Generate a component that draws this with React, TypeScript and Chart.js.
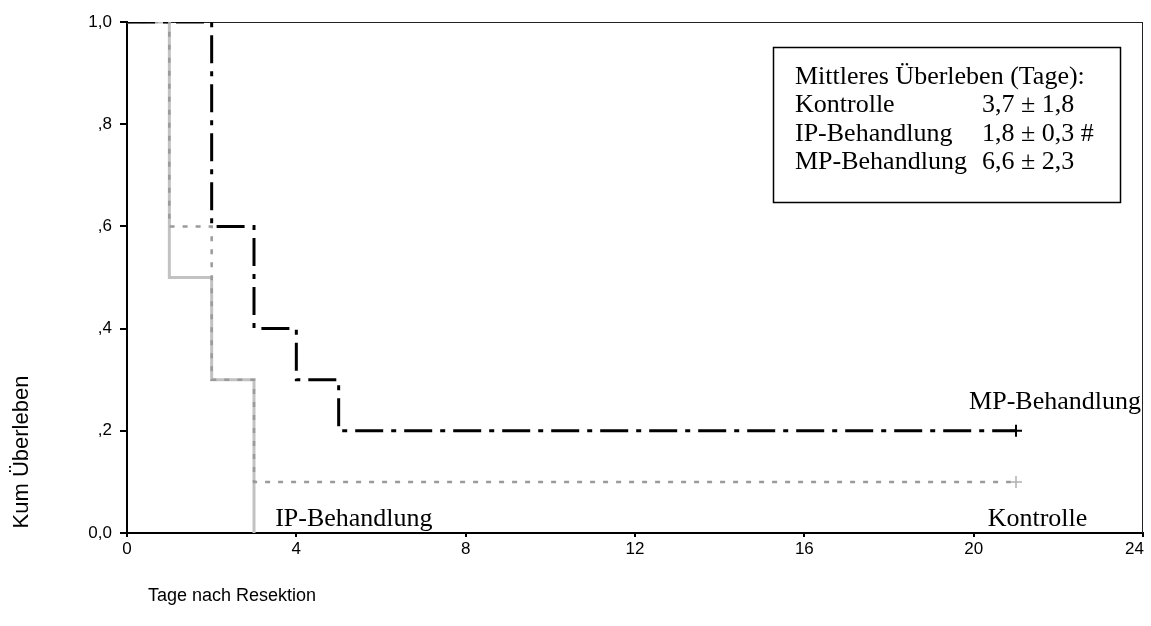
import React, { useEffect, useRef } from "react";
import { Chart, registerables } from "chart.js";

Chart.register(...registerables);

// ---- data ----
const kontrolleDays = [0, 1, 2, 3, 21];
const kontrolleSurv = [1.0, 0.6, 0.3, 0.1, 0.1];
const ipDays = [0, 1, 2, 3];
const ipSurv = [1.0, 0.5, 0.3, 0.0];
const mpDays = [0, 2, 3, 4, 5, 21];
const mpSurv = [1.0, 0.6, 0.4, 0.3, 0.2, 0.2];

const xTickLabels = ["0", "4", "8", "12", "16", "20", "24"];
const yTickLabels = ["0,0", ",2", ",4", ",6", ",8", "1,0"];

const xTitle = "Tage nach Resektion";
const yTitle = "Kum Überleben";

const legendTitle = "Mittleres Überleben (Tage):";
const legendGroups = ["Kontrolle", "IP-Behandlung", "MP-Behandlung"];
const legendValues = ["3,7 ± 1,8", "1,8 ± 0,3 #", "6,6 ± 2,3"];

const curveLabels = ["MP-Behandlung", "Kontrolle", "IP-Behandlung"];

const SANS = "'Liberation Sans', Arial, sans-serif";
const SERIF = "'Liberation Serif', 'Times New Roman', serif";

const pts = (xs: number[], ys: number[]) => xs.map((x, i) => ({ x, y: ys[i] }));
const censorRadius = (xs: number[], censored: boolean) =>
  xs.map((_, i) => (censored && i === xs.length - 1 ? 6 : 0));

const decorPlugin = {
  id: "decor",
  beforeDraw(chart: any) {
    const items = chart.scales.x.getLabelItems();
    const last = items[items.length - 1];
    if (last) {
      last.options.textAlign = "right";
      last.options.translation[0] = chart.chartArea.right + 1;
    }
  },
  beforeDatasetsDraw(chart: any) {
    const { ctx, chartArea } = chart;
    ctx.save();
    ctx.strokeStyle = "#222";
    ctx.lineWidth = 1;
    ctx.beginPath();
    ctx.moveTo(chartArea.left, chartArea.top + 0.5);
    ctx.lineTo(chartArea.right, chartArea.top + 0.5);
    ctx.moveTo(chartArea.right - 0.5, chartArea.top);
    ctx.lineTo(chartArea.right - 0.5, chartArea.bottom);
    ctx.stroke();
    ctx.restore();
  },
  afterDraw(chart: any) {
    const { ctx } = chart;
    const xs = chart.scales.x;
    const ys = chart.scales.y;
    ctx.save();
    ctx.fillStyle = "#000";

    // axis titles
    ctx.font = `18px ${SANS}`;
    ctx.textAlign = "left";
    ctx.textBaseline = "middle";
    ctx.fillText(xTitle, 148, 596);
    ctx.save();
    ctx.font = `22px ${SANS}`;
    ctx.translate(22, 452);
    ctx.rotate(-Math.PI / 2);
    ctx.textAlign = "center";
    ctx.fillText(yTitle, 0, 0);
    ctx.restore();

    // curve labels
    ctx.font = `26px ${SERIF}`;
    ctx.textBaseline = "middle";
    ctx.textAlign = "right";
    ctx.fillText(curveLabels[0], xs.right - 2, ys.getPixelForValue(0.2) - 29);
    ctx.textAlign = "left";
    ctx.fillText(curveLabels[1], xs.getPixelForValue(20.33), ys.bottom - 14);
    ctx.fillText(curveLabels[2], xs.getPixelForValue(3.5), ys.bottom - 14);

    // legend box
    const bx = 773.5, by = 47.5, bw = 347, bh = 155;
    ctx.lineWidth = 1.5;
    ctx.strokeStyle = "#000";
    ctx.fillStyle = "#fff";
    ctx.fillRect(bx, by, bw, bh);
    ctx.strokeRect(bx, by, bw, bh);
    ctx.fillStyle = "#000";
    ctx.textAlign = "left";
    ctx.font = `26px ${SERIF}`;
    const rowY = (i: number) => 77 + i * 28.5;
    ctx.fillText(legendTitle, 795, rowY(0));
    legendGroups.forEach((g, i) => {
      ctx.fillText(g, 795, rowY(i + 1));
      ctx.fillText(legendValues[i], 982, rowY(i + 1));
    });
    ctx.restore();
  },
};

export default function App() {
  const ref = useRef<HTMLCanvasElement | null>(null);

  useEffect(() => {
    if (!ref.current) return;
    const chart = new Chart(ref.current, {
      type: "scatter",
      data: {
        datasets: [
          {
            label: "IP-Behandlung",
            data: pts(ipDays, ipSurv),
            showLine: true,
            stepped: true,
            borderColor: "#c2c2c2",
            backgroundColor: "#c2c2c2",
            borderWidth: 3,
            pointRadius: censorRadius(ipDays, false),
            pointStyle: "cross",
            order: 3,
          },
          {
            label: "Kontrolle",
            data: pts(kontrolleDays, kontrolleSurv),
            showLine: true,
            stepped: true,
            borderColor: "#9a9a9a",
            backgroundColor: "#9a9a9a",
            borderWidth: 2.5,
            borderDash: [5, 8],
            pointRadius: censorRadius(kontrolleDays, true),
            pointBorderColor: "#b0b0b0",
            pointBorderWidth: 1.5,
            pointStyle: "cross",
            order: 2,
          },
          {
            label: "MP-Behandlung",
            data: pts(mpDays, mpSurv),
            showLine: true,
            stepped: true,
            borderColor: "#000",
            backgroundColor: "#000",
            borderWidth: 3,
            borderDash: [28, 8, 5, 8],
            pointRadius: censorRadius(mpDays, true),
            pointBorderColor: "#000",
            pointBorderWidth: 2,
            pointStyle: "cross",
            order: 1,
          },
        ],
      },
      options: {
        animation: false,
        responsive: false,
        devicePixelRatio: 1,
        layout: { padding: { top: 22, right: 4, left: 0, bottom: 0 } },
        plugins: { legend: { display: false }, tooltip: { enabled: false } },
        scales: {
          x: {
            type: "linear",
            min: 0,
            max: 24,
            afterFit: (s: any) => {
              s.height = 93;
              s.paddingLeft = 0;
              s.paddingRight = 0;
            },
            afterBuildTicks: (s: any) => {
              s.ticks = xTickLabels.map((l) => ({ value: Number(l) }));
            },
            ticks: {
              callback: (v: any) => {
                const i = xTickLabels.indexOf(String(v));
                return i >= 0 ? xTickLabels[i] : "";
              },
              color: "#000",
              font: { family: SANS, size: 17 },
              padding: 2,
              maxRotation: 0,
              autoSkip: false,
            },
            grid: {
              drawOnChartArea: false,
              drawTicks: true,
              tickLength: 4,
              color: "#000",
              lineWidth: 2,
            },
            border: { color: "#000", width: 2 },
          },
          y: {
            type: "linear",
            min: 0,
            max: 1,
            afterFit: (s: any) => {
              s.width = 127;
            },
            afterBuildTicks: (s: any) => {
              s.ticks = yTickLabels.map((_, i) => ({ value: i * 0.2 }));
            },
            ticks: {
              callback: (v: any) => yTickLabels[Math.round(Number(v) * 5)] ?? "",
              color: "#000",
              font: { family: SANS, size: 17 },
              padding: 8,
              autoSkip: false,
            },
            grid: {
              drawOnChartArea: false,
              drawTicks: true,
              tickLength: 7,
              color: "#000",
              lineWidth: 2,
            },
            border: { color: "#000", width: 2 },
          },
        },
      },
      plugins: [decorPlugin],
    });
    return () => chart.destroy();
  }, []);

  return (
    <div style={{ position: "absolute", left: 0, top: 0, width: 1151, height: 626, background: "#fff" }}>
      <canvas ref={ref} width={1151} height={626} style={{ display: "block" }} />
    </div>
  );
}
